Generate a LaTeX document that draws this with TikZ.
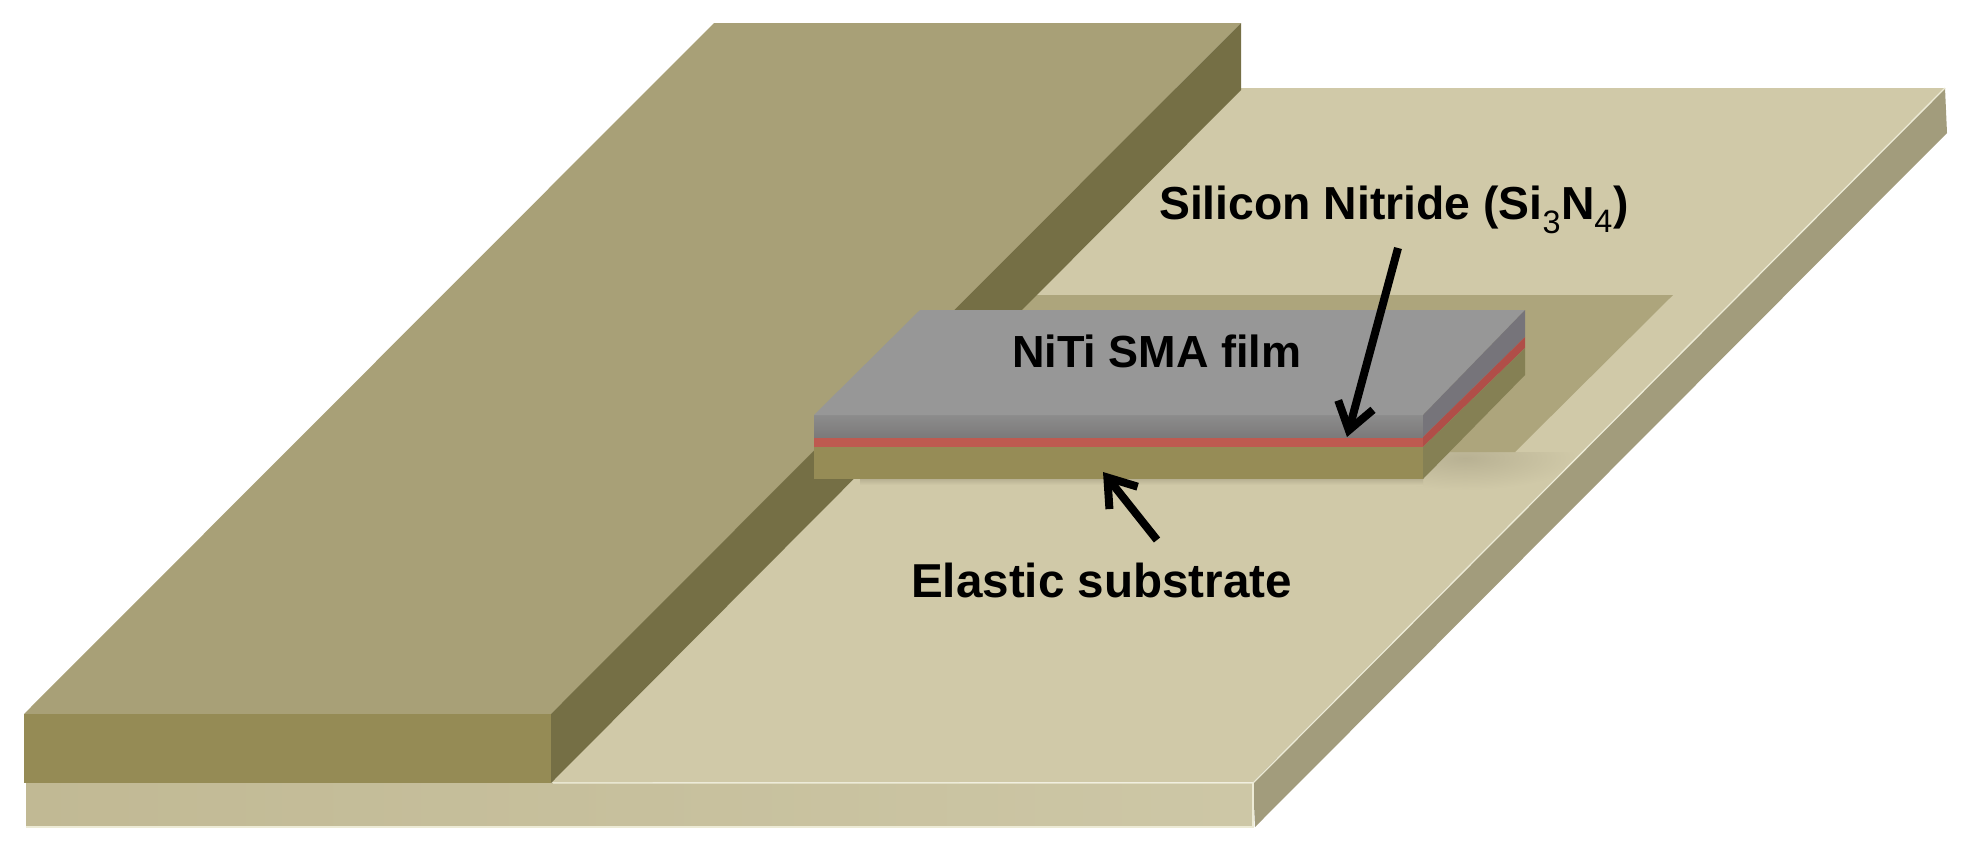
\documentclass[tikz,border=0pt]{standalone}
\usepackage{fontspec}
\setmainfont{Liberation Sans}
\usetikzlibrary{arrows.meta}
\definecolor{basetop}{HTML}{D0C9A8}
\definecolor{basefronta}{HTML}{C1B994}
\definecolor{basefrontb}{HTML}{CDC7A6}
\definecolor{baseside}{HTML}{A29C7C}
\definecolor{baseedge}{HTML}{EDEBD6}
\definecolor{shadowc}{HTML}{ADA57C}
\definecolor{softc}{HTML}{B8B193}
\definecolor{bartop}{HTML}{A8A077}
\definecolor{barfront}{HTML}{958B55}
\definecolor{barside}{HTML}{756F45}
\definecolor{filmtop}{HTML}{979797}
\definecolor{filmfronta}{HTML}{8C8C8C}
\definecolor{filmfrontb}{HTML}{7C7A7A}
\definecolor{filmside}{HTML}{76747A}
\definecolor{redfront}{HTML}{BE5A50}
\definecolor{redside}{HTML}{B04E48}
\definecolor{subfront}{HTML}{968C56}
\definecolor{subside}{HTML}{858054}
\tikzset{
  label text/.style={inner sep=0pt,anchor=base west,text=black},
  pointer/.style={draw=black,line width=8pt,
    -{Straight Barb[length=26pt,width=36pt,line width=8pt]}},
  lit edge/.style={draw=baseedge,line width=1.3pt}
}
\begin{document}
\begin{tikzpicture}[x=1pt,y=-1pt]
\useasboundingbox (0,0) rectangle (1971,857);
% base plate
\fill[basetop] (26,783) -- (714,88) -- (1945,88) -- (1253,782) -- cycle;
\shade[left color=basefronta,right color=basefrontb] (26,783) rectangle (1253,827);
\fill[baseside] (1253,782) -- (1945,88) -- (1947,133) -- (1255,827) -- cycle;
% soft shadow
\begin{scope}
\clip (1400,452) -- (1583,452) -- (1535,500) -- (1400,500) -- cycle;
\shade[inner color=softc,outer color=basetop] (1465,458) ellipse (112 and 32);
\end{scope}
\shade[top color=softc,bottom color=basetop] (860,479) rectangle (1423,485);
\draw[lit edge] (553,783) -- (1253,783) -- (1945,88);
\draw[lit edge] (1253,783) -- (1253,827) -- (26,827);
% cast shadow
\fill[shadowc] (1000,295) -- (1673,295) -- (1515,452) -- (1000,452) -- cycle;
% bar
\fill[bartop] (24,714) -- (714,23) -- (1241,23) -- (551,714) -- cycle;
\fill[barfront] (24,714) rectangle (551,783);
\fill[barside] (551,714) -- (1241,23) -- (1241,90) -- (551,783) -- cycle;
% film stack
\fill[subfront] (814,447) rectangle (1423,479);
\fill[redfront] (814,437) rectangle (1423,447);
\shade[top color=filmfronta,bottom color=filmfrontb] (814,415) rectangle (1423,437);
\fill[filmtop] (814,415) -- (920,310) -- (1525,310) -- (1423,415) -- cycle;
\fill[filmside] (1423,415) -- (1525,310) -- (1525,337) -- (1423,437) -- cycle;
\fill[redside] (1423,437) -- (1525,337) -- (1525,348) -- (1423,447) -- cycle;
\fill[subside] (1423,447) -- (1525,348) -- (1525,375) -- (1423,479) -- cycle;
% labels
\node[label text,font=\fontsize{46.3}{50}\selectfont\bfseries] (silicon) at (1159,219) {Silicon Nitride (Si\textsubscript{\normalfont 3}N\textsubscript{\normalfont 4})};
\node[label text,font=\fontsize{45}{50}\selectfont\bfseries] (niti) at (1012,367) {NiTi SMA film};
\node[label text,font=\fontsize{47.6}{50}\selectfont\bfseries] (elastic) at (911,597) {Elastic substrate};
% arrows
\coordinate (siliconTail) at (1398,248);
\coordinate (siliconTip) at (1347,437);
\coordinate (elasticTail) at (1157,540);
\coordinate (elasticTip) at (1103,472);
\draw[pointer] (siliconTail) -- (siliconTip);
\draw[pointer] (elasticTail) -- (elasticTip);
\end{tikzpicture}
\end{document}
